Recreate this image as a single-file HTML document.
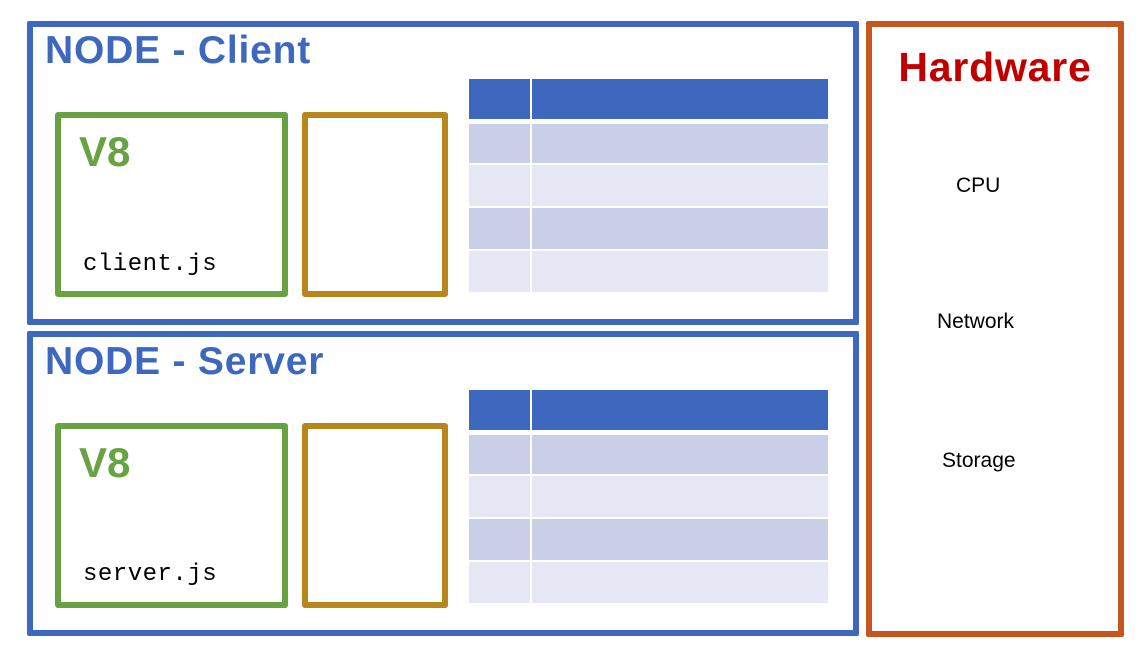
<!DOCTYPE html>
<html><head><meta charset="utf-8"><style>
body{margin:0;width:1139px;height:653px;background:#fff;position:relative;overflow:hidden;font-family:"Liberation Sans",sans-serif}
.a{position:absolute;box-sizing:border-box}
.node{border:6px solid #3E68BE;border-radius:2px}
.title{color:#3E68BE;font-weight:bold;font-size:39px;white-space:nowrap;letter-spacing:0.8px}
.v8box{border:6px solid #67A342;border-radius:3px}
.v8{color:#67A342;font-weight:bold;font-size:42px}
.js{font-family:"Liberation Mono",monospace;font-size:24px;color:#000;letter-spacing:0.5px}
.ob{border:6px solid #B8861B;border-radius:3px}
.cell{position:absolute}
.hw{border:6px solid #C4561E;border-radius:2px}
.lbl{font-size:21px;color:#000;white-space:nowrap}
</style></head><body>

<div class="a node" style="left:27px;top:21px;width:832px;height:304px"></div>
<div class="a title" style="left:45px;top:29px">NODE - Client</div>
<div class="a v8box" style="left:55px;top:112px;width:233px;height:185px"></div>
<div class="a v8" style="left:79px;top:128px">V8</div>
<div class="a js" style="left:83px;top:251px">client.js</div>
<div class="a ob" style="left:302px;top:112px;width:146px;height:185px"></div>
<div class="a" id="t1" style="left:469px;top:79px;width:359px;height:213px"></div>

<div class="a node" style="left:27px;top:331px;width:832px;height:305px"></div>
<div class="a title" style="left:45px;top:340px">NODE - Server</div>
<div class="a v8box" style="left:55px;top:423px;width:233px;height:185px"></div>
<div class="a v8" style="left:79px;top:439px">V8</div>
<div class="a js" style="left:83px;top:561px">server.js</div>
<div class="a ob" style="left:302px;top:423px;width:146px;height:185px"></div>
<div class="a" id="t2" style="left:469px;top:390px;width:359px;height:213px"></div>

<div class="a hw" style="left:866px;top:21px;width:258px;height:616px"></div>
<div class="a" style="left:866px;top:44px;width:258px;text-align:center;color:#C00000;font-weight:bold;font-size:41px;letter-spacing:0.8px">Hardware</div>
<div class="a lbl" style="left:956px;top:174px">CPU</div>
<div class="a lbl" style="left:937px;top:310px">Network</div>
<div class="a lbl" style="left:942px;top:449px">Storage</div>

<script>
var rowsY=[[0,40,'#3D68BD'],[45,39,'#C9CFE7'],[86,41,'#E5E8F4'],[129,41,'#C9CFE7'],[172,41,'#E5E8F4']];
['t1','t2'].forEach(function(id){
  var t=document.getElementById(id);
  rowsY.forEach(function(r,i){
    [[0,61],[63,296]].forEach(function(c,j){
      var d=document.createElement('div');
      d.className='cell';
      
      
      d.style.left=c[0]+'px';d.style.width=c[1]+'px';
      d.style.top=r[0]+'px';d.style.height=r[1]+'px';d.style.background=r[2];
      t.appendChild(d);
    });
  });
});
</script>
</body></html>
